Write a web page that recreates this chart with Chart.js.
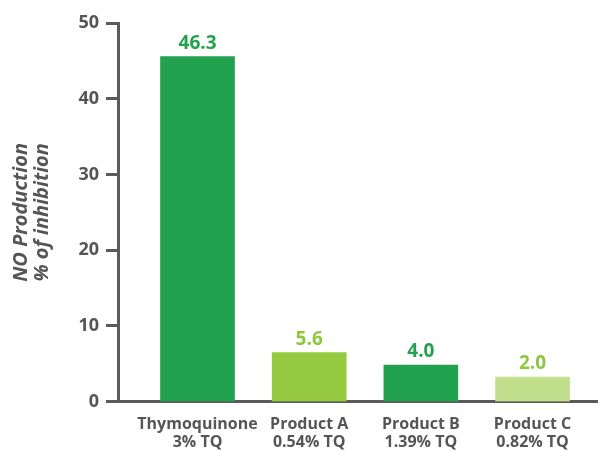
<!DOCTYPE html>
<html>
<head>
<meta charset="utf-8">
<script src="https://cdn.jsdelivr.net/npm/chart.js@4.4.0/dist/chart.umd.min.js"></script>
<style>
  html, body { margin: 0; padding: 0; background: #ffffff; }
  #wrap { width: 598px; height: 452px; position: relative; }
</style>
</head>
<body>
<div id="wrap"><canvas id="c" width="598" height="452"></canvas></div>
<script>
// ---- data ----
const categories = [["Thymoquinone", "3% TQ"], ["Product A", "0.54% TQ"], ["Product B", "1.39% TQ"], ["Product C", "0.82% TQ"]];
const barValues = [45.55, 6.47, 4.85, 3.26];          // bar heights as drawn
const valueLabels = ["46.3", "5.6", "4.0", "2.0"];      // printed labels
const yTicks = [0, 10, 20, 30, 40, 50];
const yTitle = ["NO Production", "% of inhibition"];

const barColors = ["#22a24e", "#95c93f", "#22a24e", "#c2df8e"];
const labelColors = ["#22a24e", "#8dc63f", "#22a24e", "#8dc63f"];
const axisGray = "#5b5b5b";
const textGray = "#555555";
const FONT = "'Open Sans', 'Liberation Sans', sans-serif";

const valueLabelPlugin = {
  id: 'valueLabels',
  afterDatasetsDraw(chart) {
    const meta = chart.getDatasetMeta(0);
    const ctx = chart.ctx;
    ctx.save();
    ctx.font = "bold 19px " + FONT;
    ctx.textAlign = 'center';
    ctx.textBaseline = 'alphabetic';
    meta.data.forEach((bar, i) => {
      ctx.fillStyle = labelColors[i];
      ctx.fillText(valueLabels[i], bar.x, bar.y - 8);
    });
    ctx.restore();
  }
};

new Chart(document.getElementById('c'), {
  type: 'bar',
  data: {
    datasets: [{
      data: barValues.map((v, i) => ({ x: i, y: v })),
      backgroundColor: barColors,
      borderWidth: 0,
      barThickness: 74
    }]
  },
  options: {
    responsive: false,
    animation: false,
    devicePixelRatio: 1,
    layout: { padding: { top: 23, right: 0, left: 0, bottom: 0 } },
    plugins: { legend: { display: false }, tooltip: { enabled: false } },
    scales: {
      x: {
        type: 'linear',
        offset: false,
        bounds: 'data',
        min: -0.712,
        max: 3.586,
        afterBuildTicks: (s) => { s.ticks = categories.map((c, i) => ({ value: i })); },
        afterFit: (s) => { s.height = 50.3; },
        grid: { drawOnChartArea: false, drawTicks: false },
        border: { display: true, color: axisGray, width: 3 },
        ticks: {
          autoSkip: false,
          maxRotation: 0,
          padding: 14,
          color: textGray,
          font: { family: FONT, size: 16, weight: 'bold', lineHeight: 1.1 },
          callback: (v) => categories[v]
        }
      },
      y: {
        min: 0,
        max: 50,
        afterBuildTicks: (s) => { s.ticks = yTicks.map(v => ({ value: v })); },
        afterFit: (s) => { s.width = 118; },
        grid: { drawOnChartArea: false, drawTicks: true, tickLength: 12, tickWidth: 3, color: axisGray },
        border: { display: true, color: axisGray, width: 3 },
        ticks: {
          padding: 7,
          color: textGray,
          font: { family: FONT, size: 18, weight: 'bold' }
        },
        title: {
          display: true,
          text: yTitle,
          color: textGray,
          padding: { top: 11, bottom: 0 },
          font: { family: FONT, size: 20, weight: 'bold', style: 'italic', lineHeight: 1.05 }
        }
      }
    }
  },
  plugins: [valueLabelPlugin]
});
</script>
</body>
</html>
